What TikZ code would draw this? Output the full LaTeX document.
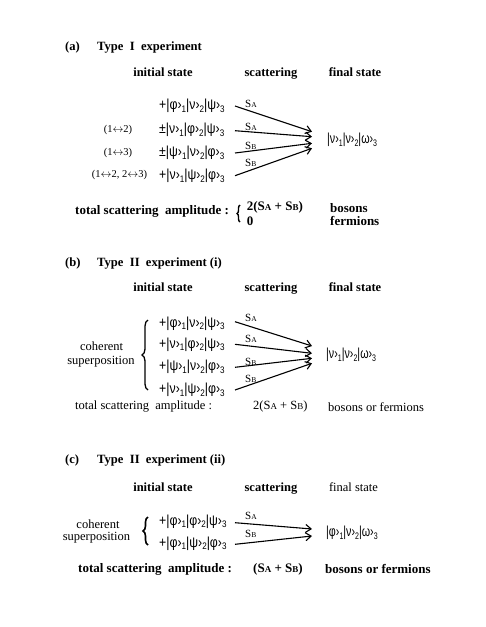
\documentclass[tikz,border=0pt]{standalone}
\usepackage{fontspec}
\setmainfont{Liberation Serif}
\newfontfamily\ketfont[FakeStretch=0.85]{Liberation Sans}
\newfontfamily\finfont[FakeStretch=0.74]{Liberation Sans}
\usetikzlibrary{arrows.meta,decorations.pathreplacing}
\newcommand\kt[2]{|#1›\raisebox{-2.5pt}{\fontsize{9.5}{10}\selectfont #2}}
\newcommand\Sl[1]{S{\fontsize{7.5}{8}\selectfont #1}}
\newcommand\Sm[1]{S{\fontsize{9}{10}\selectfont #1}}
\begin{document}
\begin{tikzpicture}[x=1pt,y=-1pt,
  ttl/.style={font=\fontsize{12.6}{15}\selectfont\bfseries, anchor=base west, inner sep=0},
  hdr/.style={font=\fontsize{12.5}{14}\selectfont\bfseries, anchor=base, inner sep=0},
  hdrn/.style={font=\fontsize{12.5}{14}\selectfont, anchor=base, inner sep=0},
  ket/.style={font=\ketfont\fontsize{14.5}{16}\selectfont, anchor=west, inner sep=0},
  fin/.style={font=\finfont\fontsize{14.5}{16}\selectfont, anchor=west, inner sep=0},
  lbl/.style={font=\fontsize{11}{12}\selectfont, anchor=west, inner sep=0},
  sw/.style={font=\fontsize{10.5}{12}\selectfont, anchor=center, inner sep=0},
  tot/.style={font=\fontsize{13}{15}\selectfont\bfseries, anchor=west, inner sep=0},
  totn/.style={font=\fontsize{12.5}{14}\selectfont, anchor=west, inner sep=0},
  arr/.style={line width=1.1pt, -{Straight Barb[length=5.5pt,width=8pt,line width=1.1pt]}},
  brc/.style={decorate, decoration={brace, amplitude=#1}, line width=1.3pt},
  brc/.default=5pt]
\useasboundingbox (0,0) rectangle (485,627);
\fill[white] (0,0) rectangle (485,627);

% ---------------- (a)
\node[ttl] (ta) at (65,50.5) {(a)};
\node[ttl] (tta) at (97,50.5) {Type\ \ I\ \ experiment};
\node[hdr] (ha1) at (163,76.3) {initial state};
\node[hdr] (ha2) at (271,76.3) {scattering};
\node[hdr] (ha3) at (355,76.3) {final state};

\node[ket] (a1) at (159,106) {+\kt{φ}{1}\kt{ν}{2}\kt{ψ}{3}};
\node[ket] (a2) at (159,130) {±\kt{ν}{1}\kt{φ}{2}\kt{ψ}{3}};
\node[ket] (a3) at (159,153) {±\kt{ψ}{1}\kt{ν}{2}\kt{φ}{3}};
\node[ket] (a4) at (159,176) {+\kt{ν}{1}\kt{ψ}{2}\kt{φ}{3}};
\node[sw] (la2) at (118,130) {(1$\leftrightarrow$2)};
\node[sw] (la3) at (118,153) {(1$\leftrightarrow$3)};
\node[sw] (la4) at (119.5,175) {(1$\leftrightarrow$2, 2$\leftrightarrow$3)};
\node[fin] (fa) at (327,140) {\kt{ν}{1}\kt{ν}{2}\kt{ω}{3}};

\coordinate (as1) at (235,106); \coordinate (at1) at (312,131.7);
\coordinate (as2) at (235,130.7); \coordinate (at2) at (312,136.7);
\coordinate (as3) at (235,153); \coordinate (at3) at (312,143.3);
\coordinate (as4) at (235,175.7); \coordinate (at4) at (312,148.3);
\draw[arr] (as1) -- (at1);
\draw[arr] (as2) -- (at2);
\draw[arr] (as3) -- (at3);
\draw[arr] (as4) -- (at4);
\node[lbl] (sa1) at (245,104) {\Sl{A}};
\node[lbl] (sa2) at (245,126.7) {\Sl{A}};
\node[lbl] (sa3) at (245,146) {\Sl{B}};
\node[lbl] (sa4) at (245,163) {\Sl{B}};

\node[tot] (tota) at (75,211.7) {total scattering\ \ amplitude :};
\draw[brc=3pt, line width=1.4pt] (240,222) -- (240,205);
\node[tot] (ampa) at (246.7,207.7) {2(\Sm{A} + \Sm{B})};
\node[tot] (za) at (246.7,221) {0};
\node[tot] (boa) at (330,207.7) {bosons};
\node[tot] (fea) at (330,221) {fermions};

% ---------------- (b)
\node[ttl] (tb) at (65,266.5) {(b)};
\node[ttl] (ttb) at (97,266.5) {Type\ \ II\ \ experiment (i)};
\node[hdr] (hb1) at (163,291) {initial state};
\node[hdr] (hb2) at (271,291) {scattering};
\node[hdr] (hb3) at (355,291) {final state};

\node[ket] (b1) at (159,323.3) {+\kt{φ}{1}\kt{ν}{2}\kt{ψ}{3}};
\node[ket] (b2) at (159,344.3) {+\kt{ν}{1}\kt{φ}{2}\kt{ψ}{3}};
\node[ket] (b3) at (159,367) {+\kt{ψ}{1}\kt{ν}{2}\kt{φ}{3}};
\node[ket] (b4) at (159,390) {+\kt{ν}{1}\kt{ψ}{2}\kt{φ}{3}};
\draw[brc=6pt] (148,390) -- (148,320);
\node[totn, anchor=center] (cb1) at (101.7,346) {coherent};
\node[totn, anchor=center] (cb2) at (101,361.7) {superposition};
\node[fin] (fb) at (326,355) {\kt{ν}{1}\kt{ν}{2}\kt{ω}{3}};

\coordinate (bs1) at (235,321.7); \coordinate (bt1) at (312,346);
\coordinate (bs2) at (235,344.3); \coordinate (bt2) at (312,353.3);
\coordinate (bs3) at (235,367.3); \coordinate (bt3) at (312,358.3);
\coordinate (bs4) at (235,390); \coordinate (bt4) at (312,363.3);
\draw[arr] (bs1) -- (bt1);
\draw[arr] (bs2) -- (bt2);
\draw[arr] (bs3) -- (bt3);
\draw[arr] (bs4) -- (bt4);
\node[lbl] (sb1) at (245,318.3) {\Sl{A}};
\node[lbl] (sb2) at (245,339) {\Sl{A}};
\node[lbl] (sb3) at (245,361.7) {\Sl{B}};
\node[lbl] (sb4) at (245,379) {\Sl{B}};

\node[totn] (totb) at (75,406.7) {total scattering\ \ amplitude :};
\node[totn] (ampb) at (253,406.7) {2(\Sm{A} + \Sm{B})};
\node[totn] (bfb) at (328,406.7) {bosons or fermions};

% ---------------- (c)
\node[ttl] (tc) at (65,463.5) {(c)};
\node[ttl] (ttc) at (97,463.5) {Type\ \ II\ \ experiment (ii)};
\node[hdr] (hc1) at (163,491.6) {initial state};
\node[hdr] (hc2) at (271,491.6) {scattering};
\node[hdrn] (hc3) at (353.5,491.6) {final state};

\node[ket] (c1) at (159,521.7) {+\kt{φ}{1}\kt{φ}{2}\kt{ψ}{3}};
\node[ket] (c2) at (159,543.3) {+\kt{φ}{1}\kt{ψ}{2}\kt{φ}{3}};
\draw[brc=5pt, line width=1.6pt] (148,545) -- (148,517);
\node[totn, anchor=center] (cc1) at (98,524) {coherent};
\node[totn, anchor=center] (cc2) at (96.5,538) {superposition};
\node[fin] (fc) at (326,533) {\kt{φ}{1}\kt{ν}{2}\kt{ω}{3}};

\coordinate (cs1) at (235,522.7); \coordinate (ct1) at (312,529);
\coordinate (cs2) at (235,544.3); \coordinate (ct2) at (312,536);
\draw[arr] (cs1) -- (ct1);
\draw[arr] (cs2) -- (ct2);
\node[lbl] (sc1) at (245,516) {\Sl{A}};
\node[lbl] (sc2) at (245,534) {\Sl{B}};

\node[tot] (totc) at (78,569) {total scattering\ \ amplitude :};
\node[tot] (ampc) at (253,569) {(\Sm{A} + \Sm{B})};
\node[tot] (bfc) at (325,569) {bosons or fermions};
\end{tikzpicture}
\end{document}
